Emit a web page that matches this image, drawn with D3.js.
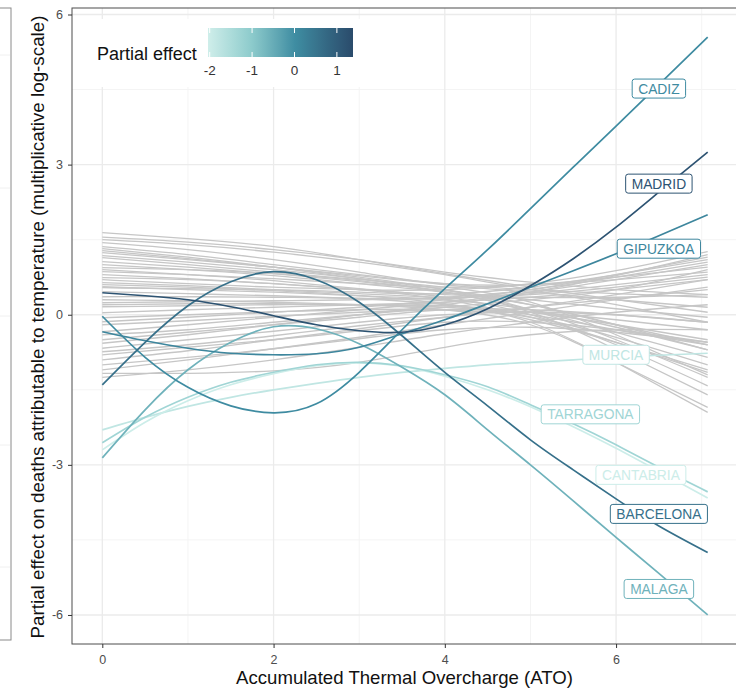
<!DOCTYPE html>
<html><head><meta charset="utf-8">
<script src="https://cdn.jsdelivr.net/npm/d3@7"></script>
<style>body{margin:0;background:#fff;} svg{display:block;font-family:"Liberation Sans",Arial,sans-serif;}</style>
</head><body><svg id="c" width="736" height="688"></svg>
<script>
// ---------------- data ----------------
const greyX = [0, 1, 2, 3, 4, 5, 6, 7.07];
const greySeries = [
  [1.64, 1.52, 1.36, 1.1, 0.82, 0.55, 0.3, 0.05],
  [1.5, 1.4, 1.25, 1.05, 0.8, 0.5, 0.2, -0.15],
  [1.44, 1.3, 1.1, 0.85, 0.6, 0.45, 0.3, 0.15],
  [1.36, 1.2, 1.0, 0.8, 0.62, 0.5, 0.42, 0.35],
  [1.32, 1.15, 0.95, 0.72, 0.45, 0.1, -0.35, -0.85],
  [1.24, 1.1, 0.95, 0.78, 0.62, 0.6, 0.7, 0.85],
  [1.18, 1.05, 0.9, 0.72, 0.5, 0.2, -0.2, -0.6],
  [1.14, 1.0, 0.85, 0.7, 0.55, 0.25, -0.4, -1.2],
  [1.06, 0.95, 0.82, 0.66, 0.48, 0.3, 0.12, -0.05],
  [1.0, 0.9, 0.78, 0.62, 0.45, 0.2, -0.2, -0.7],
  [0.94, 0.9, 0.82, 0.68, 0.45, 0.05, -0.7, -1.6],
  [0.86, 0.8, 0.72, 0.62, 0.55, 0.6, 0.75, 0.95],
  [0.8, 0.72, 0.62, 0.5, 0.4, 0.35, 0.35, 0.4],
  [0.74, 0.7, 0.62, 0.5, 0.3, -0.05, -0.55, -1.15],
  [0.64, 0.58, 0.5, 0.42, 0.35, 0.4, 0.55, 0.75],
  [0.56, 0.5, 0.45, 0.38, 0.3, 0.1, -0.25, -0.7],
  [0.54, 0.52, 0.5, 0.45, 0.42, 0.55, 0.8, 1.1],
  [0.46, 0.42, 0.38, 0.32, 0.2, -0.1, -0.55, -1.1],
  [0.36, 0.36, 0.35, 0.33, 0.32, 0.45, 0.7, 1.0],
  [0.3, 0.28, 0.25, 0.2, 0.15, 0.0, -0.3, -0.6],
  [0.24, 0.26, 0.28, 0.3, 0.35, 0.5, 0.75, 1.05],
  [0.16, 0.18, 0.2, 0.2, 0.18, 0.05, -0.2, -0.5],
  [0.04, 0.1, 0.15, 0.2, 0.25, 0.35, 0.5, 0.7],
  [-0.06, 0.0, 0.06, 0.1, 0.1, -0.05, -0.45, -1.0],
  [-0.14, -0.05, 0.05, 0.15, 0.3, 0.5, 0.8, 1.15],
  [-0.2, -0.12, -0.03, 0.05, 0.1, 0.05, -0.1, -0.3],
  [-0.34, -0.2, -0.05, 0.1, 0.25, 0.42, 0.6, 0.8],
  [-0.5, -0.35, -0.2, -0.05, 0.1, 0.1, 0.0, -0.15],
  [-0.57, -0.4, -0.2, 0.0, 0.2, 0.45, 0.78, 1.2],
  [-0.67, -0.5, -0.33, -0.15, 0.0, 0.05, 0.0, -0.15],
  [-0.74, -0.6, -0.42, -0.22, -0.05, 0.15, 0.4, 0.7],
  [-0.8, -0.65, -0.5, -0.32, -0.15, -0.15, -0.3, -0.55],
  [-0.9, -0.72, -0.5, -0.28, -0.05, 0.15, 0.32, 0.5],
  [-1.0, -0.85, -0.68, -0.48, -0.3, -0.25, -0.35, -0.55],
  [-1.1, -0.9, -0.68, -0.45, -0.2, 0.05, 0.3, 0.55],
  [-1.17, -1.17, -1.12, -0.95, -0.65, -0.4, -0.3, -0.3],
  [-1.25, -1.1, -0.9, -0.65, -0.38, -0.15, 0.05, 0.2],
  [1.55, 1.45, 1.3, 1.1, 0.85, 0.65, 0.5, 0.4],
  [1.28, 1.12, 0.95, 0.75, 0.5, 0.1, -0.5, -1.25],
  [0.9, 0.8, 0.68, 0.52, 0.35, 0.0, -0.6, -1.42],
  [0.6, 0.55, 0.48, 0.38, 0.22, -0.15, -0.95, -1.95],
  [0.2, 0.22, 0.22, 0.2, 0.1, -0.2, -0.95, -1.85],
  [-0.4, -0.3, -0.15, 0.0, 0.15, 0.3, 0.5, 0.9],
  [0.7, 0.62, 0.55, 0.5, 0.5, 0.62, 0.88, 1.26]
];

const colX = [0, 0.5, 1, 1.5, 2, 2.5, 3, 3.5, 4, 4.5, 5, 5.5, 6, 6.5, 7.07];
const provinces = ["CADIZ", "MADRID", "GIPUZKOA", "MURCIA", "TARRAGONA", "CANTABRIA", "BARCELONA", "MALAGA"];
const cadiz     = [-0.03, -0.85, -1.45, -1.82, -1.96, -1.78, -1.15, -0.3, 0.52, 1.3, 2.12, 2.95, 3.77, 4.6, 5.55];
const madrid    = [0.44, 0.38, 0.3, 0.16, -0.02, -0.2, -0.32, -0.35, -0.2, 0.12, 0.58, 1.12, 1.75, 2.45, 3.25];
const gipuzkoa  = [-0.34, -0.52, -0.67, -0.77, -0.8, -0.78, -0.65, -0.38, -0.1, 0.22, 0.55, 0.88, 1.22, 1.58, 2.0];
const murcia    = [-2.3, -2.05, -1.83, -1.65, -1.5, -1.37, -1.25, -1.15, -1.07, -1.0, -0.95, -0.9, -0.85, -0.81, -0.77];
const tarragona = [-2.56, -2.05, -1.65, -1.35, -1.15, -1.0, -0.95, -1.02, -1.2, -1.44, -1.8, -2.18, -2.6, -3.05, -3.54];
const cantabria = [-2.7, -2.15, -1.72, -1.4, -1.18, -1.02, -0.96, -1.03, -1.23, -1.5, -1.84, -2.24, -2.67, -3.13, -3.66];
const barcelona = [-1.4, -0.55, 0.18, 0.66, 0.86, 0.7, 0.25, -0.42, -1.15, -1.82, -2.5, -3.1, -3.68, -4.22, -4.75];
const malaga    = [-2.86, -1.9, -1.1, -0.55, -0.24, -0.28, -0.58, -1.05, -1.6, -2.3, -3.0, -3.72, -4.45, -5.17, -6.0];
const partialEffect = [0.05, 1.2, 0.15, -1.8, -1.3, -2.0, 0.6, -0.6];
const labelX = [6.5, 6.5, 6.5, 6.0, 5.7, 6.29, 6.5, 6.5];
const labelY = [4.52, 2.62, 1.32, -0.8, -1.99, -3.2, -3.98, -5.48];

const xTicks = [0, 2, 4, 6];
const yTicks = [-6, -3, 0, 3, 6];
const xMinor = [1, 3, 5, 7];
const yMinor = [-4.5, -1.5, 1.5, 4.5];
const legendTicks = [-2, -1, 0, 1];

// ---------------- drawing ----------------
const svg = d3.select("#c");
const P = {l: 72, r: 738, t: 8, b: 644};
const x = d3.scaleLinear().domain([-0.354, 7.424]).range([P.l, P.r]);
const y = d3.scaleLinear().domain([-6.58, 6.13]).range([P.b, P.t]);
const col = d3.scaleLinear().domain([-2.04, -1, 0, 1.38])
  .range(["#cfeeea", "#8ccbcc", "#3f8ea3", "#2a4b6b"]).interpolate(d3.interpolateLab);

// left partial panel
svg.append("rect").attr("x", -20).attr("y", P.t).attr("width", 31).attr("height", P.b - P.t - 4)
  .attr("fill", "none").attr("stroke", "#8a8a8a").attr("stroke-width", 1);
[55, 188, 316, 445, 567].forEach(v => svg.append("line").attr("x1", 0).attr("x2", 10).attr("y1", v).attr("y2", v)
  .attr("stroke", "#f0f0f0"));

// grid
const g = svg.append("g");
g.selectAll(".xm").data(xMinor).join("line").attr("x1", d => x(d)).attr("x2", d => x(d))
  .attr("y1", P.t).attr("y2", P.b).attr("stroke", "#f4f4f4").attr("stroke-width", 1);
g.selectAll(".ym").data(yMinor).join("line").attr("y1", d => y(d)).attr("y2", d => y(d))
  .attr("x1", P.l).attr("x2", P.r).attr("stroke", "#f4f4f4").attr("stroke-width", 1);
g.selectAll(".xM").data(xTicks).join("line").attr("x1", d => x(d)).attr("x2", d => x(d))
  .attr("y1", P.t).attr("y2", P.b).attr("stroke", "#ebebeb").attr("stroke-width", 1.3);
g.selectAll(".yM").data(yTicks).join("line").attr("y1", d => y(d)).attr("y2", d => y(d))
  .attr("x1", P.l).attr("x2", P.r).attr("stroke", "#ebebeb").attr("stroke-width", 1.3);

const line = d3.line().x(d => x(d[0])).y(d => y(d[1])).curve(d3.curveNatural);

// grey lines
svg.append("g").selectAll("path").data(greySeries).join("path")
  .attr("d", s => line(s.map((v, i) => [greyX[i], v])))
  .attr("fill", "none").attr("stroke", "#c6c6c6").attr("stroke-width", 1.3);

// coloured lines
const colSeries = [cadiz, madrid, gipuzkoa, murcia, tarragona, cantabria, barcelona, malaga];
const order = [3, 5, 4, 7, 0, 2, 6, 1];
svg.append("g").selectAll("path").data(order).join("path")
  .attr("d", k => line(colSeries[k].map((v, i) => [colX[i], v])))
  .attr("fill", "none").attr("stroke", k => col(partialEffect[k])).attr("stroke-width", 1.7);

// panel border
svg.append("rect").attr("x", P.l).attr("y", P.t).attr("width", P.r - P.l).attr("height", P.b - P.t)
  .attr("fill", "none").attr("stroke", "#4d4d4d").attr("stroke-width", 1);

// axes
const ax = svg.append("g").attr("transform", `translate(0,${P.b})`)
  .call(d3.axisBottom(x).tickValues(xTicks).tickSize(4).tickPadding(7).tickFormat(d => String(d)));
const ay = svg.append("g").attr("transform", `translate(${P.l},0)`)
  .call(d3.axisLeft(y).tickValues(yTicks).tickSize(4).tickPadding(5).tickFormat(d => String(d)));
[ax, ay].forEach(a => {
  a.select(".domain").remove();
  a.selectAll(".tick line").attr("stroke", "#333");
  a.selectAll(".tick text").attr("fill", "#4d4d4d").style("font-size", "12.5px")
    .style("font-family", '"Liberation Sans",Arial,sans-serif');
});

// axis titles
svg.append("text").attr("x", (P.l + 737) / 2).attr("y", 684).attr("text-anchor", "middle")
  .attr("fill", "#111").style("font-size", "18.6px").text("Accumulated Thermal Overcharge (ATO)");
svg.append("text").attr("transform", `translate(44,${(P.t + P.b) / 2 + 1}) rotate(-90)`).attr("text-anchor", "middle")
  .attr("fill", "#111").style("font-size", "18.8px")
  .text("Partial effect on deaths attributable to temperature (multiplicative log-scale)");

// labels
const lab = svg.append("g").selectAll("g").data(d3.range(provinces.length)).join("g")
  .attr("transform", k => `translate(${x(labelX[k])},${y(labelY[k])})`);
lab.each(function (k) {
  const gg = d3.select(this);
  const c = col(partialEffect[k]);
  const r = gg.append("rect");
  const t = gg.append("text").attr("text-anchor", "middle").attr("dy", "0.36em")
    .attr("fill", c).style("font-size", "13.8px").text(provinces[k]);
  const w = t.node().getComputedTextLength() + 12;
  r.attr("x", -w / 2).attr("y", -9.5).attr("width", w).attr("height", 19).attr("rx", 2.5)
    .attr("fill", "white").attr("stroke", c).attr("stroke-width", 1);
});

// legend
const lg = svg.append("g");
lg.append("rect").attr("x", 84).attr("y", 19).attr("width", 282).attr("height", 68).attr("fill", "white");
lg.append("text").attr("x", 97).attr("y", 60).attr("fill", "#111").style("font-size", "18px").text("Partial effect");
const lx = d3.scaleLinear().domain([-2.04, 1.38]).range([208, 353]);
const grad = svg.append("defs").append("linearGradient").attr("id", "grad");
d3.range(0, 1.0001, 0.05).forEach(f => {
  const v = -2.04 + f * 3.42;
  grad.append("stop").attr("offset", f).attr("stop-color", col(v));
});
lg.append("rect").attr("x", 208).attr("y", 28).attr("width", 145).attr("height", 29).attr("fill", "url(#grad)");
lg.selectAll(".tk1").data(legendTicks).join("line").attr("x1", d => lx(d)).attr("x2", d => lx(d))
  .attr("y1", 28).attr("y2", 33).attr("stroke", "white").attr("stroke-width", 1);
lg.selectAll(".tk2").data(legendTicks).join("line").attr("x1", d => lx(d)).attr("x2", d => lx(d))
  .attr("y1", 52).attr("y2", 57).attr("stroke", "white").attr("stroke-width", 1);
lg.selectAll(".tl").data(legendTicks).join("text").attr("x", d => lx(d)).attr("y", 75)
  .attr("text-anchor", "middle").attr("fill", "#333").style("font-size", "13.5px").text(d => String(d));
</script></body></html>
